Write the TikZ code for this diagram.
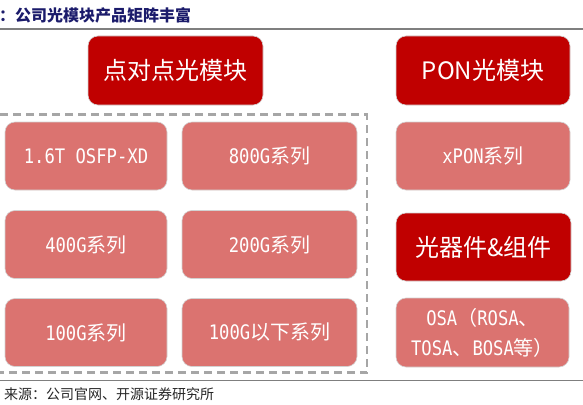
\documentclass[tikz,border=0pt]{standalone}
\usepackage{fontspec}
\setmainfont{Noto Sans CJK SC}
\newfontfamily\cjk{Noto Sans CJK SC}
\newfontfamily\mono[FakeStretch=0.86]{DejaVu Sans Mono}
\definecolor{darkred}{HTML}{C00000}
\definecolor{pinkc}{HTML}{DB7370}
\definecolor{navy}{HTML}{1B1B6B}
\definecolor{rulec}{HTML}{7F7F7F}
\definecolor{dashc}{HTML}{A6A6A6}
\begin{document}
\begin{tikzpicture}[x=1pt,y=-1pt,
  pinkbox/.style={rounded corners=10pt, fill=pinkc, draw=gray!35, line width=0.6pt,
    text=white, align=center, inner sep=0pt, font=\fontsize{20}{24}\selectfont},
  redbox/.style={rounded corners=10pt, fill=darkred, draw=gray!35, line width=0.6pt,
    text=white, align=center, inner sep=0pt, font=\fontsize{24}{28}\selectfont},
  rulel/.style={draw=rulec, line width=1.5pt},
  dashbox/.style={draw=dashc, line width=2.6pt, dash pattern=on 8pt off 5pt}]
\useasboundingbox (0,0) rectangle (583,404);
% title and rules
\node[anchor=west, inner sep=0pt, text=navy, font=\fontsize{16}{18}\selectfont\bfseries] (title) at (-1,15) {：公司光模块产品矩阵丰富};
\draw[rulel] (0,29) -- (583,29);
\draw[rulel] (0,380.5) -- (583,380.5);
\node[anchor=west, inner sep=0pt, text=black!85, font=\fontsize{14}{16}\selectfont] (src) at (4,394) {来源：公司官网、开源证券研究所};
% dashed frame
\draw[dashbox] (-6,114.5) rectangle (367,372.5);
% header boxes
\node[redbox, minimum width=175pt, minimum height=69pt] (p2p) at (175.5,70.5) {点对点光模块};
\node[redbox, minimum width=174pt, minimum height=69pt] (pon) at (483,70.5) {PON光模块};
% left grid
\node[pinkbox, minimum width=162pt, minimum height=68pt] (b16) at (86,156) {{\mono 1.6T OSFP-XD}};
\node[pinkbox, minimum width=175pt, minimum height=68pt] (b800) at (269.5,156) {{\mono 800G}{\cjk 系列}};
\node[pinkbox, minimum width=162pt, minimum height=68pt] (b400) at (86,244.5) {{\mono 400G}{\cjk 系列}};
\node[pinkbox, minimum width=175pt, minimum height=68pt] (b200) at (269.5,244.5) {{\mono 200G}{\cjk 系列}};
\node[pinkbox, minimum width=162pt, minimum height=68pt] (b100) at (86,332.5) {{\mono 100G}{\cjk 系列}};
\node[pinkbox, minimum width=175pt, minimum height=68pt] (b100l) at (269.5,332.5) {{\mono 100G}{\cjk 以下系列}};
% right column
\node[pinkbox, minimum width=174pt, minimum height=68pt] (xpon) at (483,156) {{\mono xPON}{\cjk 系列}};
\node[redbox, minimum width=175pt, minimum height=68pt] (comp) at (483.5,247) {光器件\&组件};
\node[pinkbox, minimum width=173pt, minimum height=69pt, font=\fontsize{20}{30}\selectfont] (osa) at (482.5,332.5)
  {{\mono OSA}{\cjk （}{\mono ROSA}{\cjk 、}\\{\mono TOSA}{\cjk 、}{\mono BOSA}{\cjk 等）}};
\end{tikzpicture}
\end{document}
